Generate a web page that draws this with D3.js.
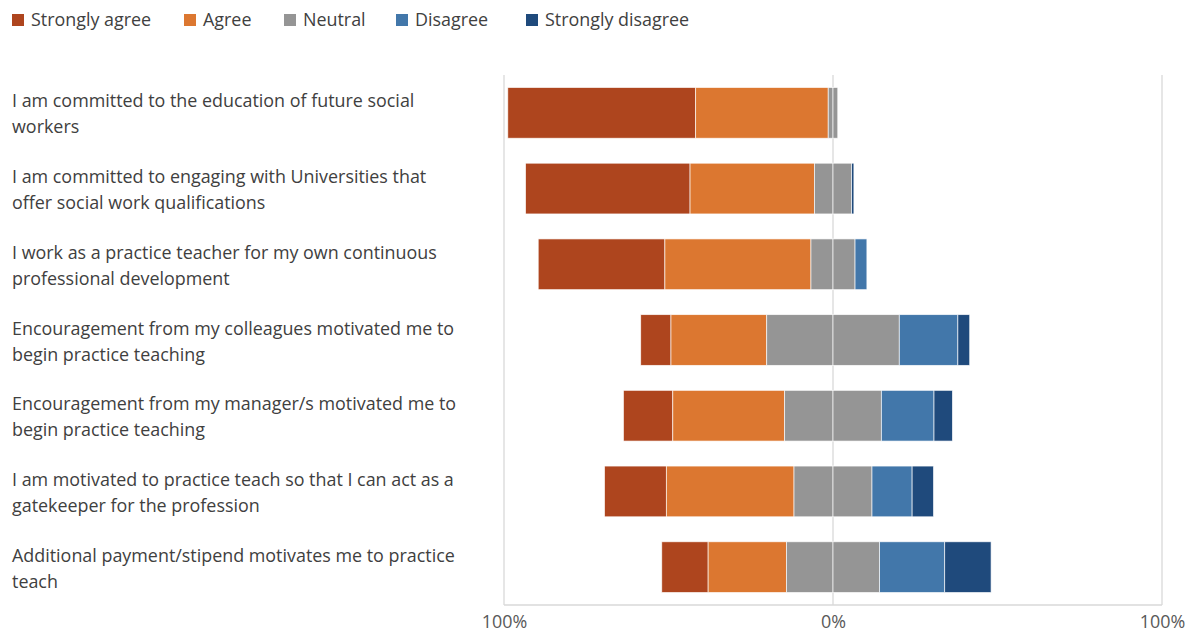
<!DOCTYPE html>
<html>
<head>
<meta charset="utf-8">
<script src="https://cdn.jsdelivr.net/npm/d3@7"></script>
<style>
  html, body { margin: 0; padding: 0; background: #fff; }
  svg { display: block; font-family: "Open Sans", "Noto Sans", sans-serif; }
</style>
</head>
<body>
<svg id="chart" width="1192" height="632"></svg>
<script>
const categories = [
  "I am committed to the education of future social\nworkers",
  "I am committed to engaging with Universities that\noffer social work qualifications",
  "I work as a practice teacher for my own continuous\nprofessional development",
  "Encouragement from my colleagues motivated me to\nbegin practice teaching",
  "Encouragement from my manager/s motivated me to\nbegin practice teaching",
  "I am motivated to practice teach so that I can act as a\ngatekeeper for the profession",
  "Additional payment/stipend motivates me to practice\nteach"
];
const seriesNames = ["Strongly agree", "Agree", "Neutral", "Disagree", "Strongly disagree"];
const stronglyAgree    = [57.1, 50.0, 38.5,  9.2, 15.0, 18.8, 14.1];
const agree            = [40.3, 37.8, 44.4, 29.1, 34.0, 38.8, 23.8];
const neutral          = [ 2.9, 11.3, 13.4, 40.3, 29.4, 23.7, 28.3];
const disagree         = [ 0.0,  0.0,  3.6, 17.8, 16.0, 12.2, 19.8];
const stronglyDisagree = [ 0.0,  0.7,  0.0,  3.6,  5.6,  6.5, 14.1];
const tickValues = [-100, 0, 100];
const tickLabels = ["100%", "0%", "100%"];

const colors = ["#AE451E", "#DC7730", "#959595", "#4277AA", "#1F4A7C"];
const FS = "17.9px";

const svg = d3.select("#chart");
const plot = { left: 504, right: 1162, top: 75, bottom: 605 };

const x = d3.scaleLinear().domain([-100, 100]).range([plot.left, plot.right]);
const y = d3.scaleBand().domain(d3.range(categories.length))
  .range([plot.top, plot.bottom]).paddingInner(0.33).paddingOuter(0.165);

// gridlines
svg.append("g").selectAll("line").data(tickValues).join("line")
  .attr("x1", d => x(d)).attr("x2", d => x(d))
  .attr("y1", plot.top).attr("y2", plot.bottom)
  .attr("stroke", "#d9d9d9").attr("stroke-width", 1.3);
svg.append("line")
  .attr("x1", plot.left).attr("x2", plot.right)
  .attr("y1", plot.bottom).attr("y2", plot.bottom)
  .attr("stroke", "#d9d9d9").attr("stroke-width", 1.3);

// build segments: diverging around neutral center
const segs = [];
categories.forEach((c, i) => {
  const sa = stronglyAgree[i], a = agree[i], n = neutral[i], d = disagree[i], sd = stronglyDisagree[i];
  const left0 = -(n / 2);
  const parts = [
    { s: 0, x0: left0 - a - sa, x1: left0 - a },
    { s: 1, x0: left0 - a, x1: left0 },
    { s: 2, x0: left0, x1: 0 },
    { s: 2, x0: 0, x1: n / 2 },
    { s: 3, x0: n / 2, x1: n / 2 + d },
    { s: 4, x0: n / 2 + d, x1: n / 2 + d + sd }
  ];
  parts.forEach(p => { if (p.x1 - p.x0 > 0) segs.push({ i, ...p }); });
});

svg.append("g").selectAll("rect").data(segs).join("rect")
  .attr("x", d => x(d.x0))
  .attr("width", d => x(d.x1) - x(d.x0))
  .attr("y", d => y(d.i))
  .attr("height", y.bandwidth())
  .attr("fill", d => colors[d.s])
  .attr("stroke", "#ffffff").attr("stroke-width", 0.8).attr("stroke-opacity", 0.8);

// axis tick labels
const axis = d3.axisBottom(x).tickValues(tickValues)
  .tickFormat((d, i) => tickLabels[i]).tickSize(0).tickPadding(10);
const ax = svg.append("g").attr("transform", `translate(0,${plot.bottom})`).call(axis);
ax.select(".domain").remove();
ax.selectAll("text").attr("fill", "#595959").style("font-size", FS)
  .style("font-family", '"Open Sans", "Noto Sans", sans-serif');

// category labels
const labG = svg.append("g");
categories.forEach((c, i) => {
  const cy = y(i) + y.bandwidth() / 2;
  const lines = c.split("\n");
  const t = labG.append("text").attr("x", 12).attr("fill", "#404040").style("font-size", FS);
  lines.forEach((ln, k) => {
    t.append("tspan").attr("x", 12).attr("y", cy - 5.5 + k * 26).text(ln);
  });
});

// legend
const legendX = [12, 184, 284, 396, 526];
const lg = svg.append("g");
seriesNames.forEach((nm, i) => {
  lg.append("rect").attr("x", legendX[i]).attr("y", 14).attr("width", 12).attr("height", 12)
    .attr("fill", colors[i]);
  lg.append("text").attr("x", legendX[i] + 19).attr("y", 26)
    .attr("fill", "#404040").style("font-size", FS).text(nm);
});
</script>
</body>
</html>
